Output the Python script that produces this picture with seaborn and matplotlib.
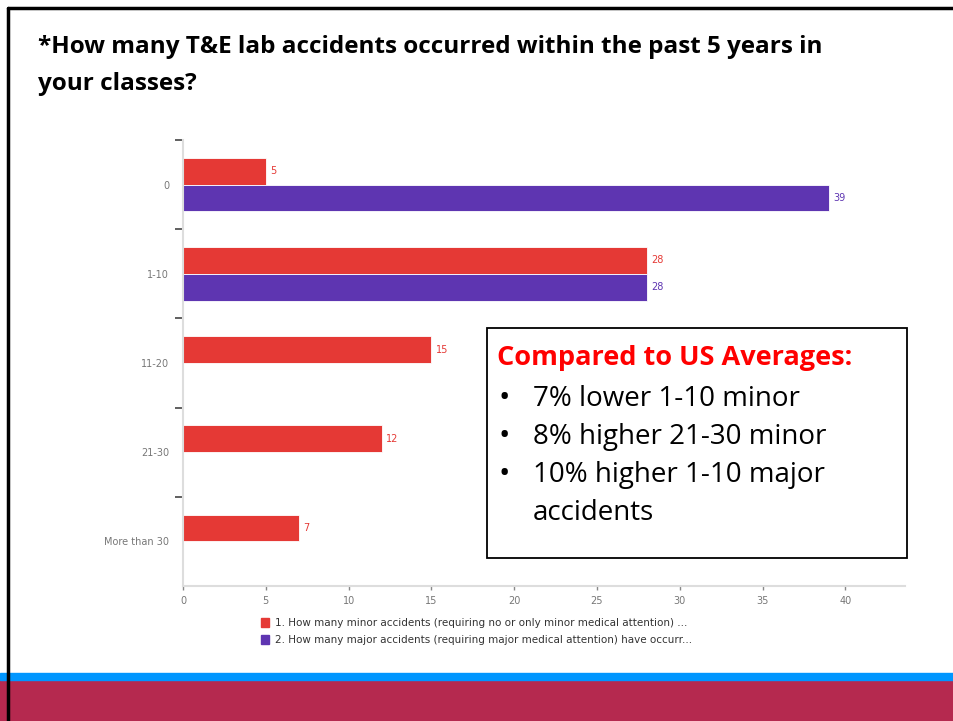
import numpy as np
import matplotlib.pyplot as plt
import matplotlib.patches as mpatches
import seaborn as sns
import pandas as pd

# data
categories = ['0', '1-10', '11-20', '21-30', 'More than 30']
minor_counts = [5, 28, 15, 12, 7]
major_counts = [39, 28, 0, 0, 0]
series_names = ['1. How many minor accidents (requiring no or only minor medical attention) ...',
                '2. How many major accidents (requiring major medical attention) have occurr...']
x_ticks = [0, 5, 10, 15, 20, 25, 30, 35, 40]

red = '#E53935'
purple = '#5E35B1'

df = pd.DataFrame({
    'category': categories * 2,
    'count': minor_counts + major_counts,
    'series': [series_names[0]] * len(categories) + [series_names[1]] * len(categories),
})

sns.set_style('white')
plt.rcParams['font.family'] = ['DejaVu Sans']
plt.rcParams['text.color'] = 'black'

W, H = 954, 721
fig = plt.figure(figsize=(W / 100, H / 100), dpi=100)

# slide decoration
fig.add_artist(mpatches.Rectangle((0, 0), 1, 41 / H, transform=fig.transFigure,
                                  color='#B5294F', zorder=0))
fig.add_artist(mpatches.Rectangle((0, 41 / H), 1, 7 / H, transform=fig.transFigure,
                                  color='#0096FF', zorder=0))
fig.add_artist(plt.Line2D([8 / W, 8 / W], [0, 1 - 8 / H], transform=fig.transFigure,
                          color='black', lw=2.5))
fig.add_artist(plt.Line2D([8 / W, 1], [1 - 8 / H, 1 - 8 / H], transform=fig.transFigure,
                          color='black', lw=2.5))

fig.text(38 / W, 1 - 47 / H, '*How many T&E lab accidents occurred within the past 5 years in',
         fontsize=17.5, fontweight='bold', family='Open Sans', va='center', ha='left',
         color='black')
fig.text(38 / W, 1 - 84 / H, 'your classes?',
         fontsize=17.5, fontweight='bold', family='Open Sans', va='center', ha='left',
         color='black')

# axes: left 183, right 905, top 140, bottom 586 (pixels)
ax = fig.add_axes([183 / W, 1 - 586 / H, (905 - 183) / W, (586 - 140) / H])
sns.barplot(data=df, y='category', x='count', hue='series', order=categories,
            hue_order=series_names, palette=[red, purple], width=0.6, saturation=1,
            edgecolor='white', linewidth=0.6, orient='h', ax=ax, legend=False)

for container, color in zip(ax.containers, [red, purple]):
    labels = [str(int(v)) if v > 0 else '' for v in container.datavalues]
    ax.bar_label(container, labels=labels, padding=3, color=color, fontsize=7)

ax.set_xlim(0, 43.6)
ax.set_ylim(len(categories) - 0.5, -0.5)
ax.set_xlabel('')
ax.set_ylabel('')
ax.set_xticks(x_ticks)
ax.set_xticklabels([str(t) for t in x_ticks])
ax.tick_params(axis='x', bottom=True, length=3, width=1, color='#888888',
               labelcolor='#777777', labelsize=7, pad=4)
ax.tick_params(axis='y', which='major', left=False, length=0, labelcolor='#777777',
               labelsize=7, pad=10)
ax.set_yticks(np.arange(-0.5, len(categories) - 0.5, 1.0), minor=True)
ax.tick_params(axis='y', which='minor', left=True, length=6, width=1.2, color='#444444')
for side in ['top', 'right']:
    ax.spines[side].set_visible(False)
for side in ['left', 'bottom']:
    ax.spines[side].set_color('#DDDDDD')
    ax.spines[side].set_linewidth(1.5)
ax.grid(False)

# legend
handles = [mpatches.Patch(color=red, label=series_names[0]),
           mpatches.Patch(color=purple, label=series_names[1])]
fig.legend(handles=handles, loc='upper left', bbox_to_anchor=(252 / W, 1 - 609 / H),
           frameon=False, fontsize=7.5, handlelength=0.7, handleheight=0.9,
           handletextpad=0.6, labelspacing=0.65, labelcolor='#333333')

# annotation box
fig.add_artist(mpatches.Rectangle((487 / W, 1 - 558 / H), (907 - 487) / W, (558 - 328) / H,
                                  transform=fig.transFigure, facecolor='white',
                                  edgecolor='black', lw=1.3, zorder=5))
fig.text(497 / W, 1 - 358 / H, 'Compared to US Averages:', color='#FF0000', fontsize=19.5,
         fontweight='bold', family='Open Sans', va='center', ha='left', zorder=6)
bullets = ['7% lower 1-10 minor', '8% higher 21-30 minor', '10% higher 1-10 major', 'accidents']
for i, line in enumerate(bullets):
    y = 1 - (399 + i * 38) / H
    if i < 3:
        fig.text(499 / W, y, '•', fontsize=22, va='center', ha='left', zorder=6,
                 family='Open Sans', color='black')
    fig.text(533 / W, y, line, fontsize=20, va='center', ha='left', zorder=6,
             family='Open Sans', color='black')

fig.savefig('out.png', dpi=100)
